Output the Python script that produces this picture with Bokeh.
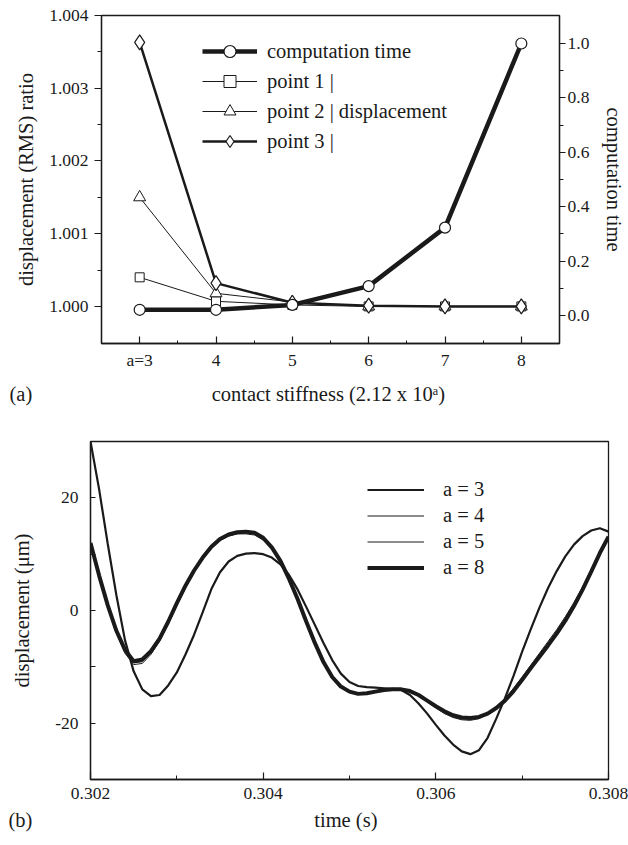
from bokeh.plotting import figure
from bokeh.layouts import column, row
from bokeh.models import (Range1d, LinearAxis, FixedTicker, Legend, LegendItem, Title,
                          NumeralTickFormatter)
from bokeh.embed import file_html
from bokeh.resources import INLINE

FONT = "Liberation Serif"
INK = "#1a1a1a"
NB = "\u00a0"

# ---------------- (a) data ----------------
stiffness_exp = [3, 4, 5, 6, 7, 8]
stiffness_labels = ["a=3", "4", "5", "6", "7", "8"]
comp_time = [0.021, 0.021, 0.039, 0.108, 0.323, 1.0]
point1 = [1.00040, 1.00007, 1.00002, 1.00000, 1.00000, 1.00000]
point2 = [1.00150, 1.00018, 1.00006, 1.00000, 1.00000, 1.00000]
point3 = [1.00363, 1.00032, 1.00005, 1.00001, 1.00000, 1.00000]

# ---------------- (b) data ----------------
time_s = [0.3020, 0.3021, 0.3022, 0.3023, 0.3024, 0.3025, 0.3026, 0.3027, 0.3028, 0.3029,
          0.3030, 0.3031, 0.3032, 0.3033, 0.3034, 0.3035, 0.3036, 0.3037, 0.3038, 0.3039,
          0.3040, 0.3041, 0.3042, 0.3043, 0.3044, 0.3045, 0.3046, 0.3047, 0.3048, 0.3049,
          0.3050, 0.3051, 0.3052, 0.3053, 0.3054, 0.3055, 0.3056, 0.3057, 0.3058, 0.3059,
          0.3060, 0.3061, 0.3062, 0.3063, 0.3064, 0.3065, 0.3066, 0.3067, 0.3068, 0.3069,
          0.3070, 0.3071, 0.3072, 0.3073, 0.3074, 0.3075, 0.3076, 0.3077, 0.3078, 0.3079,
          0.3080]
disp_a3 = [30.0, 21.5, 11.8, 2.7, -5.3, -10.8, -14.0, -15.2, -15.0, -13.3,
           -11.0, -7.8, -4.3, -0.3, 3.8, 6.8, 8.7, 9.7, 10.1, 10.2,
           10.0, 9.4, 8.2, 6.3, 3.7, 0.6, -2.6, -5.8, -8.8, -11.2,
           -12.7, -13.4, -13.6, -13.7, -13.8, -13.9, -14.1, -15.0, -16.5, -18.3,
           -20.3, -22.2, -23.8, -25.0, -25.5, -24.8, -22.6, -19.2, -15.6, -11.6,
           -7.3, -3.3, 0.5, 4.0, 7.0, 9.6, 11.7, 13.2, 14.2, 14.6,
           14.0]
disp_a4 = [12.0, 6.0, 0.5, -4.0, -7.6, -9.6, -9.4, -7.8, -5.5, -2.4,
           0.9, 4.0, 6.8, 9.1, 11.0, 12.4, 13.2, 13.6, 13.6, 13.4,
           12.5, 10.9, 8.6, 5.5, 2.0, -1.9, -5.6, -9.0, -11.7, -13.4,
           -14.3, -14.7, -14.6, -14.3, -14.0, -13.9, -13.9, -14.3, -15.1, -16.2,
           -17.3, -18.3, -19.0, -19.4, -19.5, -19.2, -18.4, -17.2, -15.7, -13.8,
           -11.8, -9.7, -7.6, -5.5, -3.4, -1.1, 1.4, 4.2, 7.2, 10.3,
           13.2]
disp_a5 = [12.0, 6.1, 0.7, -3.8, -7.3, -9.3, -9.1, -7.5, -5.3, -2.2,
           1.1, 4.2, 6.9, 9.2, 11.1, 12.5, 13.3, 13.7, 13.8, 13.6,
           12.7, 11.0, 8.7, 5.5, 2.0, -1.9, -5.7, -9.1, -11.7, -13.4,
           -14.3, -14.7, -14.6, -14.3, -14.0, -13.9, -14.0, -14.3, -15.1, -16.1,
           -17.2, -18.1, -18.8, -19.2, -19.3, -19.0, -18.3, -17.2, -15.8, -14.0,
           -12.0, -9.9, -7.8, -5.8, -3.7, -1.4, 1.1, 4.0, 7.0, 10.2,
           13.1]
disp_a8 = [12.0, 6.2, 0.9, -3.6, -7.0, -9.0, -8.7, -7.2, -5.0, -2.0,
           1.3, 4.4, 7.1, 9.4, 11.3, 12.7, 13.5, 13.9, 14.0, 13.8,
           12.9, 11.2, 8.8, 5.6, 2.0, -2.0, -5.8, -9.2, -11.8, -13.5,
           -14.4, -14.8, -14.7, -14.4, -14.1, -14.0, -14.0, -14.3, -15.0, -16.0,
           -17.0, -17.9, -18.6, -19.0, -19.1, -18.9, -18.3, -17.3, -16.0, -14.3,
           -12.3, -10.2, -8.2, -6.2, -4.1, -1.8, 0.8, 3.7, 6.9, 10.2,
           13.1]
x_ticks_b = [0.302, 0.304, 0.306, 0.308]
x_minor_b = [0.303, 0.305, 0.307]
y_ticks_b = [-20, 0, 20]
y_minor_b = [-30, -10, 10, 30]

TICK_FS = "17.5px"
LAB_FS = "20.5px"


def style_axis(ax, t_in, t_out, m_in, m_out, standoff, lab_standoff):
    ax.axis_line_color = INK
    ax.axis_line_width = 1.3
    ax.major_tick_line_color = INK
    ax.minor_tick_line_color = INK
    ax.major_tick_line_width = 1.2
    ax.minor_tick_line_width = 1.0
    ax.major_tick_in = t_in
    ax.major_tick_out = t_out
    ax.minor_tick_in = m_in
    ax.minor_tick_out = m_out
    ax.major_label_text_font = FONT
    ax.major_label_text_font_size = TICK_FS
    ax.major_label_text_color = INK
    ax.major_label_standoff = standoff
    ax.axis_label_text_font = FONT
    ax.axis_label_text_font_size = LAB_FS
    ax.axis_label_text_font_style = "normal"
    ax.axis_label_text_color = INK
    ax.axis_label_standoff = lab_standoff


def bottom_title(text, offset, gap=None):
    t = Title(text=text, align="left", offset=offset, vertical_align="bottom",
              text_font=FONT, text_font_size=LAB_FS, text_font_style="normal",
              text_color=INK)
    if gap is not None and "standoff" in t.properties():
        t.standoff = gap
    return t


# ================= (a) =================
p1 = figure(width=628, height=420, output_backend="svg", toolbar_location=None,
            x_range=Range1d(2.5, 8.5), y_range=Range1d(0.99949, 1.004),
            min_border_left=101, min_border_right=62, min_border_top=15, min_border_bottom=77)
p1.extra_y_ranges = {"ct": Range1d(-0.103, 1.103)}
p1.xgrid.visible = False
p1.ygrid.visible = False
p1.outline_line_color = INK
p1.outline_line_width = 1.3
p1.background_fill_color = "white"
p1.border_fill_color = "white"

ax = p1.xaxis[0]
ax.ticker = FixedTicker(ticks=stiffness_exp, minor_ticks=[3.5, 4.5, 5.5, 6.5, 7.5])
ax.major_label_overrides = {k: v for k, v in zip(stiffness_exp, stiffness_labels)}
style_axis(ax, 7, 0, 3, 0, 6, 14)

ay = p1.yaxis[0]
ay.ticker = FixedTicker(ticks=[1.000, 1.001, 1.002, 1.003, 1.004],
                        minor_ticks=[1.0005, 1.0015, 1.0025, 1.0035])
ay.formatter = NumeralTickFormatter(format="0.000")
ay.axis_label = "displacement (RMS) ratio"
style_axis(ay, 0, 7, 0, 4, 6, 9)

ar = LinearAxis(y_range_name="ct", axis_label="computation time")
ar.ticker = FixedTicker(ticks=[0.0, 0.2, 0.4, 0.6, 0.8, 1.0],
                        minor_ticks=[0.1, 0.3, 0.5, 0.7, 0.9])
ar.formatter = NumeralTickFormatter(format="0.0")
style_axis(ar, 0, 6, 0, 4, 2, 11)
p1.add_layout(ar, "right")

p1.add_layout(bottom_title("(a)" + NB * 35 + "contact stiffness (2.12 x 10\u1d43)", -92, 16),
              "below")

l_ct = p1.line(stiffness_exp, comp_time, y_range_name="ct", line_color=INK, line_width=4.5)
l_p1 = p1.line(stiffness_exp, point1, line_color=INK, line_width=1.0)
l_p2 = p1.line(stiffness_exp, point2, line_color=INK, line_width=1.0)
l_p3 = p1.line(stiffness_exp, point3, line_color=INK, line_width=2.5)
m_p1 = p1.scatter(stiffness_exp, point1, marker="square", size=9, fill_color="white",
                  line_color=INK, line_width=1.0)
m_p2 = p1.scatter(stiffness_exp, point2, marker="triangle", size=12, fill_color="white",
                  line_color=INK, line_width=1.0)
m_p3 = p1.scatter(stiffness_exp, point3, marker="diamond", size=15, fill_color="white",
                  line_color=INK, line_width=1.2)
m_ct = p1.scatter(stiffness_exp, comp_time, y_range_name="ct", marker="circle", size=11,
                  fill_color="white", line_color=INK, line_width=1.2)

leg1 = Legend(items=[
    LegendItem(label="computation time", renderers=[l_ct, m_ct]),
    LegendItem(label="point 1 |", renderers=[l_p1, m_p1]),
    LegendItem(label="point 2 | displacement", renderers=[l_p2, m_p2]),
    LegendItem(label="point 3 |", renderers=[l_p3, m_p3]),
], location=(101, 187))
leg1.glyph_width = 55
leg1.glyph_height = 30
leg1.label_height = 30
leg1.spacing = -3
leg1.padding = 0
leg1.margin = 0
leg1.label_standoff = 10
leg1.border_line_alpha = 0
leg1.background_fill_alpha = 0
leg1.label_text_font = FONT
leg1.label_text_font_size = LAB_FS
leg1.label_text_color = INK
p1.add_layout(leg1, "center")

# ================= (b) =================
p2 = figure(width=628, height=425, output_backend="svg", toolbar_location=None,
            x_range=Range1d(0.302, 0.308), y_range=Range1d(-30, 30),
            min_border_left=90, min_border_right=20, min_border_top=21, min_border_bottom=66)
p2.xgrid.visible = False
p2.ygrid.visible = False
p2.outline_line_color = INK
p2.outline_line_width = 1.3
p2.background_fill_color = "white"
p2.border_fill_color = "white"

bx = p2.xaxis[0]
bx.ticker = FixedTicker(ticks=x_ticks_b, minor_ticks=x_minor_b)
bx.formatter = NumeralTickFormatter(format="0.000")
style_axis(bx, 7, 0, 4, 0, 8, 12)

by = p2.yaxis[0]
by.ticker = FixedTicker(ticks=y_ticks_b, minor_ticks=y_minor_b)
by.formatter = NumeralTickFormatter(format="0")
by.axis_label = "displacement (\u03bcm)"
style_axis(by, 5, 0, 5, 0, 12, 19)

p2.add_layout(bottom_title("(b)" + NB * 55 + "time (s)", -82), "below")

r3 = p2.line(time_s, disp_a3, line_color=INK, line_width=2.2)
r4 = p2.line(time_s, disp_a4, line_color=INK, line_width=1.0)
r5 = p2.line(time_s, disp_a5, line_color=INK, line_width=1.0)
r8 = p2.line(time_s, disp_a8, line_color=INK, line_width=4.0)

leg2 = Legend(items=[
    LegendItem(label="a = 3", renderers=[r3]),
    LegendItem(label="a = 4", renderers=[r4]),
    LegendItem(label="a = 5", renderers=[r5]),
    LegendItem(label="a = 8", renderers=[r8]),
], location=(277, 200))
leg2.glyph_width = 57
leg2.glyph_height = 23
leg2.label_height = 23
leg2.spacing = 3
leg2.padding = 0
leg2.margin = 0
leg2.label_standoff = 19
leg2.border_line_alpha = 0
leg2.background_fill_alpha = 0
leg2.label_text_font = FONT
leg2.label_text_font_size = LAB_FS
leg2.label_text_color = INK
p2.add_layout(leg2, "center")

layout = column(row(p1), row(p2), spacing=0)
open("out.html", "w").write(file_html(layout, INLINE))
